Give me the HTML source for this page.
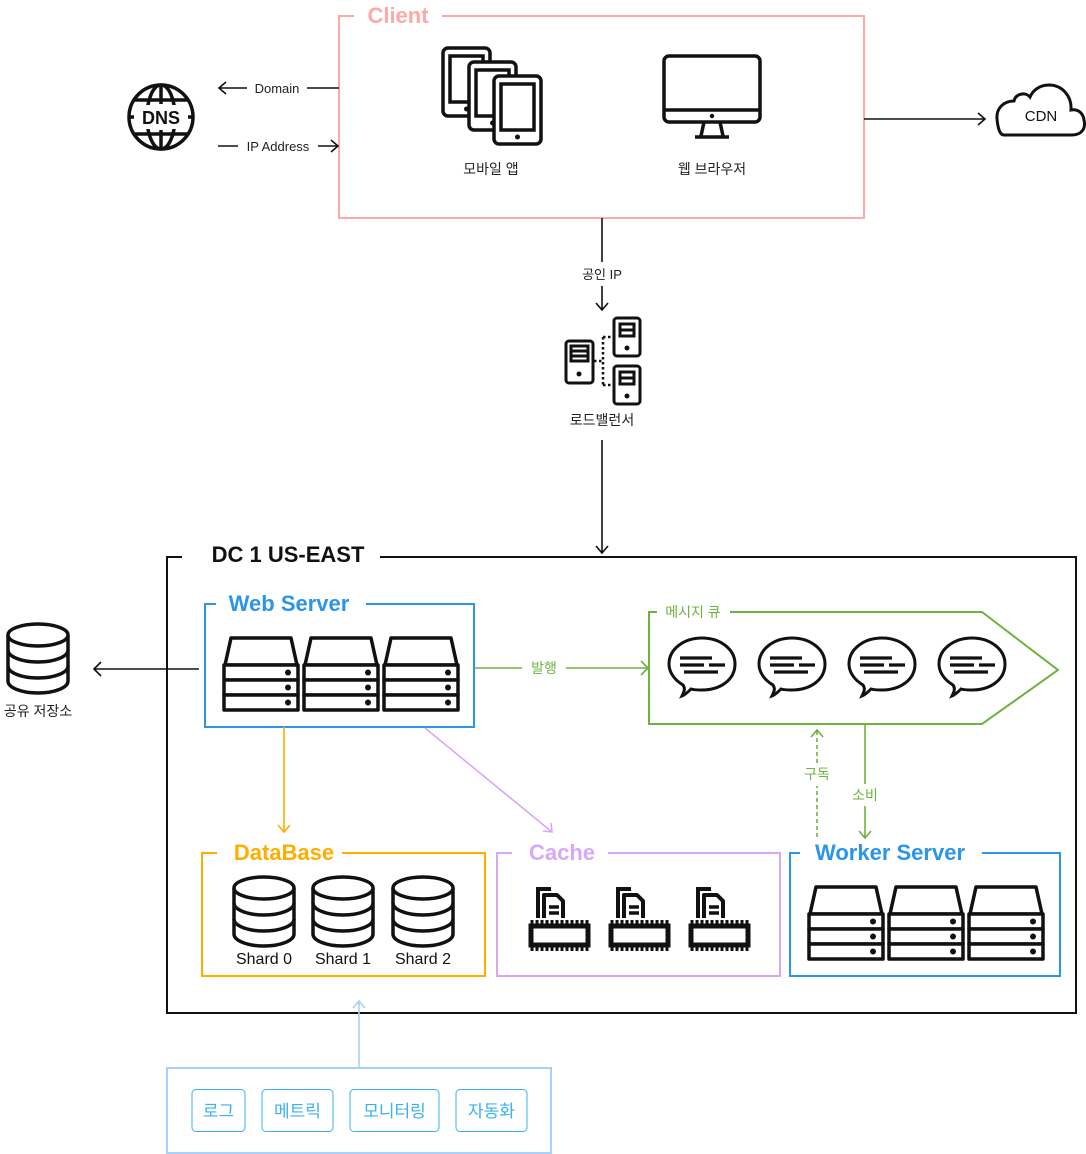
<!DOCTYPE html>
<html><head><meta charset="utf-8"><style>
html,body{margin:0;padding:0;background:#fff;}
svg{display:block;}
text{font-family:"Liberation Sans","Noto Sans CJK KR",sans-serif;}
</style></head><body>
<svg width="1086" height="1154" viewBox="0 0 1086 1154" xmlns="http://www.w3.org/2000/svg">
<defs>
  <g id="srv" fill="#fff" stroke="#111" stroke-width="3.5" stroke-linejoin="round">
    <path d="M8,0 L68,0 L74,27 L2,27 Z"/>
    <rect x="1" y="27" width="74" height="15"/>
    <rect x="1" y="42" width="74" height="15"/>
    <rect x="1" y="57" width="74" height="15"/>
    <circle cx="65" cy="34.5" r="3" fill="#111" stroke="none"/>
    <circle cx="65" cy="49.5" r="3" fill="#111" stroke="none"/>
    <circle cx="65" cy="64.5" r="3" fill="#111" stroke="none"/>
  </g>
  <g id="db" fill="#fff" stroke="#111" stroke-width="3.5">
    <path d="M0,12 L0,58 A30,12 0 0 0 60,58 L60,12"/>
    <ellipse cx="30" cy="12" rx="30" ry="11"/>
    <path d="M0,27 A30,12 0 0 0 60,27 M0,43 A30,12 0 0 0 60,43" fill="none"/>
  </g>
  <g id="chip" stroke="#111" fill="none">
    <path d="M10,31 V2 H23" stroke-width="4"/>
    <path d="M16,31 V8 H29 L35,14 V31" stroke-width="4" stroke-linejoin="round"/>
    <path d="M21,20 H31 M21,26 H31" stroke-width="3.5"/>
    <rect x="3" y="39" width="57" height="19" stroke-width="5"/>
    <path d="M4,33 V39 M9,33 V39 M14,33 V39 M19,33 V39 M24,33 V39 M29,33 V39 M34,33 V39 M39,33 V39 M44,33 V39 M49,33 V39 M54,33 V39 M59,33 V39 M4,58 V64 M9,58 V64 M14,58 V64 M19,58 V64 M24,58 V64 M29,58 V64 M34,58 V64 M39,58 V64 M44,58 V64 M49,58 V64 M54,58 V64 M59,58 V64" stroke-width="3"/>
  </g>
  <g id="bub" fill="#fff" stroke="#111" stroke-width="3">
    <path d="M14,60 C17,54 17,52 15,49 C5,43 1,35 1,28 C1,13 16,2 34,2 C52,2 67,13 67,28 C67,44 52,54 34,54 C29,54 26,54 23,53 C20,56 17,59 14,60 Z"/>
    <path d="M12,22 H44 M12,29 H36 M41,29 H57 M16,36 H50" stroke-width="3.2" fill="none"/>
  </g>
  <g id="tab" fill="#fff" stroke="#111" stroke-width="3.5">
    <rect x="0" y="0" width="47" height="68" rx="5"/>
    <rect x="7" y="8" width="33" height="46" fill="none"/>
    <circle cx="23.5" cy="61" r="2.5" fill="#111" stroke="none"/>
  </g>
  <g id="pc" fill="#fff" stroke="#111" stroke-width="3">
    <rect x="0" y="0" width="26" height="38" rx="3"/>
    <rect x="6" y="6" width="14" height="12" fill="none"/>
    <path d="M6,12 H20" fill="none"/>
    <circle cx="13" cy="30" r="2.5" fill="#111" stroke="none"/>
  </g>
</defs>

<!-- Client -->
<path d="M354,16 H339 V218 H864 V16 H442" fill="none" stroke="#ffa8a8" stroke-width="2"/>
<text x="398" y="23" text-anchor="middle" font-size="22" font-weight="bold" fill="#ffa8a8">Client</text>
<use href="#tab" x="443" y="48"/>
<use href="#tab" x="469" y="62"/>
<use href="#tab" x="494" y="76"/>
<text x="491" y="174" text-anchor="middle" font-size="14" fill="#222">모바일 앱</text>
<g fill="none" stroke="#111" stroke-width="3.5" stroke-linejoin="round">
  <rect x="664" y="56" width="96" height="66" rx="5"/>
  <path d="M664,110 H760"/>
  <path d="M704,122 L701,136 M720,122 L723,136"/>
  <path d="M695,137 H729"/>
</g>
<circle cx="712" cy="116" r="2.2" fill="#111"/>
<text x="712" y="174" text-anchor="middle" font-size="14" fill="#222">웹 브라우저</text>

<!-- DNS -->
<g fill="none" stroke="#111" stroke-width="3.5">
  <circle cx="161" cy="117" r="32"/>
  <ellipse cx="161" cy="117" rx="14" ry="32"/>
  <path d="M161,85 V104 M161,130 V149 M135,100 H187 M135,134 H187 M128,117 H134 M188,117 H194"/>
</g>
<rect x="136" y="105" width="50" height="24" fill="#fff"/>
<text x="161" y="124" text-anchor="middle" font-size="18" font-weight="bold" fill="#111">DNS</text>
<g stroke="#111" stroke-width="1.6" fill="none">
  <path d="M339,88 H307 M247,88 H219 M226,82 L219,88 L226,94"/>
  <path d="M218,146 H238 M318,146 H338 M331,140 L338,146 L331,152"/>
</g>
<text x="277" y="93" text-anchor="middle" font-size="13" fill="#222">Domain</text>
<text x="278" y="151" text-anchor="middle" font-size="13" fill="#222">IP Address</text>

<!-- CDN -->
<g stroke="#111" stroke-width="1.6" fill="none"><path d="M864,119 H985 M978,113 L985,119 L978,125"/></g>
<path d="M1004,135 H1072 C1082,135 1086,128 1084,120 C1083,112 1077,109 1071,110 C1072,96 1062,85 1049,85 C1040,85 1033,90 1030,97 C1026,92 1016,93 1014,101 C1004,101 996,108 997,119 C998,129 1000,135 1004,135 Z" fill="#fff" stroke="#111" stroke-width="3"/>
<text x="1041" y="121" text-anchor="middle" font-size="15" fill="#111">CDN</text>

<!-- public IP -->
<g stroke="#111" stroke-width="1.6" fill="none">
  <path d="M602,218 V262 M602,286 V310 M596,303 L602,310 L608,303"/>
  <path d="M602,440 V553 M596,546 L602,553 L608,546"/>
</g>
<text x="602" y="279" text-anchor="middle" font-size="13" fill="#222">공인 IP</text>
<g fill="none" stroke="#111" stroke-width="2.5" stroke-dasharray="2.5,2.5">
  <path d="M594,361 H603 M603,337 V385 M603,337 H613 M603,385 H613"/>
  <path d="M572,364 V378"/>
</g>
<g fill="#fff" stroke="#111" stroke-width="3">
  <rect x="566" y="341" width="27" height="42" rx="3"/>
  <rect x="571" y="346" width="17" height="15" fill="none"/>
  <path d="M571,351 H588 M571,356 H588" fill="none"/>
</g>
<circle cx="579" cy="374" r="2.5" fill="#111"/>
<use href="#pc" x="614" y="318"/>
<use href="#pc" x="614" y="366"/>
<text x="602" y="425" text-anchor="middle" font-size="14" fill="#222">로드밸런서</text>

<!-- DC -->
<path d="M182,557 H167 V1013 H1076 V557 H380" fill="none" stroke="#111" stroke-width="2"/>
<text x="288" y="562" text-anchor="middle" font-size="22" font-weight="bold" fill="#111">DC 1 US-EAST</text>

<!-- Web Server -->
<path d="M216,604 H205 V727 H474 V604 H366" fill="none" stroke="#2b95e9" stroke-width="2"/>
<text x="289" y="611" text-anchor="middle" font-size="22" font-weight="bold" fill="#2b95e9">Web Server</text>
<use href="#srv" x="223" y="638"/>
<use href="#srv" x="303" y="638"/>
<use href="#srv" x="383" y="638"/>

<!-- shared storage -->
<g stroke="#111" stroke-width="1.6" fill="none"><path d="M199,669 H94 M101,662 L94,669 L101,676"/></g>
<use href="#db" x="8" y="623"/>
<text x="38" y="716" text-anchor="middle" font-size="14" fill="#222">공유 저장소</text>

<!-- publish -->
<g stroke="#6db33f" stroke-width="1.6" fill="none"><path d="M474,668 H522 M566,668 H648 M641,661 L648,668 L641,675"/></g>
<text x="544" y="673" text-anchor="middle" font-size="14" fill="#6db33f">발행</text>

<!-- MQ -->
<path d="M657,612 H649 V724 H982 L1058,670 L982,612 H730" fill="none" stroke="#6db33f" stroke-width="2"/>
<text x="693" y="617" text-anchor="middle" font-size="14" fill="#6db33f">메시지 큐</text>
<use href="#bub" x="668" y="636"/>
<use href="#bub" x="758" y="636"/>
<use href="#bub" x="848" y="636"/>
<use href="#bub" x="938" y="636"/>

<g stroke="#6db33f" stroke-width="1.6" fill="none">
  <path d="M817,837 V786 M817,763 V730" stroke-dasharray="4,3"/>
  <path d="M811,737 L817,730 L823,737"/>
  <path d="M865,724 V784 M865,806 V838 M859,831 L865,838 L871,831"/>
</g>
<text x="817" y="779" text-anchor="middle" font-size="14" fill="#6db33f">구독</text>
<text x="865" y="800" text-anchor="middle" font-size="14" fill="#6db33f">소비</text>

<!-- Worker -->
<path d="M800,853 H790 V976 H1060 V853 H982" fill="none" stroke="#2b95e9" stroke-width="2"/>
<text x="890" y="860" text-anchor="middle" font-size="22" font-weight="bold" fill="#2b95e9">Worker Server</text>
<use href="#srv" x="808" y="887"/>
<use href="#srv" x="888" y="887"/>
<use href="#srv" x="968" y="887"/>

<!-- DB -->
<g stroke="#ffad00" stroke-width="1.6" fill="none"><path d="M284,727 V832 M278,825 L284,832 L290,825"/></g>
<path d="M217,853 H202 V976 H485 V853 H334" fill="none" stroke="#ffad00" stroke-width="2"/>
<rect x="226" y="840" width="116" height="25" fill="#fff"/>
<text x="284" y="860" text-anchor="middle" font-size="22" font-weight="bold" fill="#ffad00">DataBase</text>
<use href="#db" x="234" y="876"/>
<use href="#db" x="313" y="876"/>
<use href="#db" x="393" y="876"/>
<text x="264" y="964" text-anchor="middle" font-size="16" fill="#111">Shard 0</text>
<text x="343" y="964" text-anchor="middle" font-size="16" fill="#111">Shard 1</text>
<text x="423" y="964" text-anchor="middle" font-size="16" fill="#111">Shard 2</text>

<!-- Cache -->
<g stroke="#d8a8f8" stroke-width="1.6" fill="none"><path d="M425,728 L552,832 M543,831 L552,832 L551,823"/></g>
<path d="M512,853 H497 V976 H780 V853 H608" fill="none" stroke="#d8a8f8" stroke-width="2"/>
<text x="562" y="860" text-anchor="middle" font-size="22" font-weight="bold" fill="#d8a8f8">Cache</text>
<use href="#chip" x="528" y="887"/>
<use href="#chip" x="608" y="887"/>
<use href="#chip" x="688" y="887"/>

<!-- bottom tools -->
<g stroke="#a8d0f8" stroke-width="1.6" fill="none"><path d="M359,1068 V1001 M353,1008 L359,1001 L365,1008"/></g>
<rect x="167" y="1068" width="384" height="85" fill="none" stroke="#a8d0f8" stroke-width="2"/>
<g fill="#fff" stroke="#3ab0f0" stroke-width="1">
  <rect x="192" y="1089.5" width="53" height="42" rx="4"/>
  <rect x="262" y="1089.5" width="71" height="42" rx="4"/>
  <rect x="350" y="1089.5" width="89" height="42" rx="4"/>
  <rect x="456" y="1089.5" width="71" height="42" rx="4"/>
</g>
<g font-size="17" fill="#3ab0f0" text-anchor="middle">
  <text x="218.5" y="1117">로그</text>
  <text x="297.5" y="1117">메트릭</text>
  <text x="394.5" y="1117">모니터링</text>
  <text x="491.5" y="1117">자동화</text>
</g>
</svg>
</body></html>
